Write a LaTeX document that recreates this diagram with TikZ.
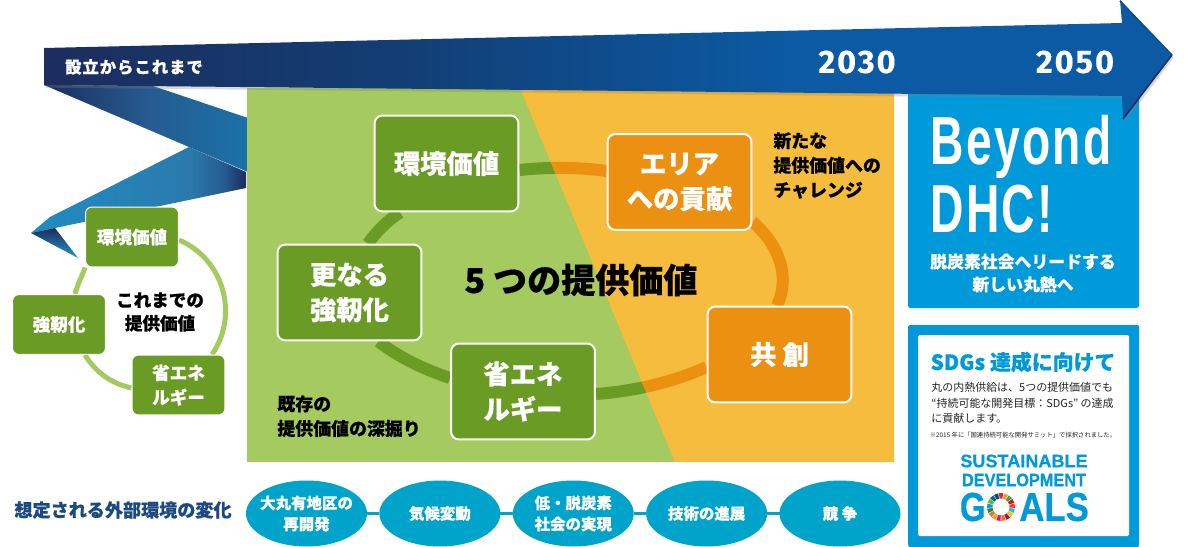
\documentclass[tikz,border=0pt]{standalone}
\usepackage{fontspec}
\usepackage{xcolor}
\usetikzlibrary{shapes.geometric, positioning, calc, backgrounds, shadows}
\newfontfamily\jp{Noto Sans CJK JP}[BoldFeatures={FakeBold=.5}]
\newfontfamily\numf{Fira Sans}[BoldFeatures={FakeBold=.4}]
\newfontfamily\dinf{Liberation Sans}[FakeStretch=0.68]
\newfontfamily\sdgf{Liberation Sans}[BoldFeatures={FakeBold=.5}]
\newcommand{\fs}[2]{\fontsize{#1}{#2}\selectfont}

\definecolor{leaf}{HTML}{6A9C25}
\definecolor{leaflt}{HTML}{A5CA60}
\definecolor{amber}{HTML}{F5BC3E}
\definecolor{ochre}{HTML}{EB9010}
\definecolor{navyd}{HTML}{1C2D5E}
\definecolor{navym}{HTML}{123E74}
\definecolor{royal}{HTML}{0B5AA3}
\definecolor{sky}{HTML}{0099D9}
\definecolor{teal}{HTML}{00A3C9}
\definecolor{rib}{HTML}{1A72A8}
\definecolor{ribl}{HTML}{1F8CC4}
\definecolor{ribm}{HTML}{2B7AAC}
\definecolor{ribd}{HTML}{265A8F}
\definecolor{ribb}{HTML}{2497C8}
\definecolor{extx}{HTML}{1B4A82}

\pgfdeclarehorizontalshading{arrowshade}{100bp}{color(0bp)=(navyd); color(25bp)=(navyd);
  color(41bp)=(navym); color(58bp)=(royal); color(100bp)=(royal)}
\pgfdeclarehorizontalshading{ribshade}{100bp}{color(0bp)=(ribl); color(25bp)=(ribl);
  color(62bp)=(ribm); color(70bp)=(ribd); color(75bp)=(navyd); color(100bp)=(navyd)}

\tikzstyle{block}  = [rectangle, rounded corners=.16cm, minimum width=2.88cm,
                      minimum height=1.92cm, inner sep=0pt, text centered, draw=white,
                      line width=.04cm, text=white, align=center,
                      font=\jp\bfseries\fs{15}{20}]
\tikzstyle{gblock} = [block, fill=leaf]
\tikzstyle{oblock} = [block, fill=ochre]
\tikzstyle{sblock} = [gblock, rounded corners=.13cm, minimum width=1.86cm, minimum height=1.2cm,
                      line width=.02cm, font=\jp\bfseries\fs{10}{14}]
\tikzstyle{oval}   = [ellipse, fill=teal, minimum width=2.42cm, minimum height=1.32cm,
                      inner sep=-.2cm, outer sep=0pt, text=white, align=center, font=\jp\bfseries\fs{8.8}{12}]
\tikzstyle{link}   = [teal, line width=.07cm]
\tikzstyle{gring}  = [leaf, line width=.24cm]
\tikzstyle{oring}  = [ochre, line width=.24cm]
\tikzstyle{sring}  = [leaflt, line width=.1cm]
\tikzstyle{note}   = [align=left, inner sep=0pt, font=\jp\bfseries\fs{10.2}{14}]
\tikzstyle{ribbon} = [draw=none]

\newcommand{\ringsegs}[1]{%
  \draw[#1] ($(env.east)+(0,6.5)$) .. controls (548,167) and (578,167) .. ($(area.west)+(0,-11)$);
  \draw[#1] ($(area.east)+(0,39.5)$) .. controls (781,247) and (790,278) .. ($(kyoso.north)+(-2.5,0)$);
  \draw[#1] ($(kyoso.west)+(0,12.5)$) .. controls (676,381) and (637,391) .. ($(energy.east)+(0,2.5)$);
  \draw[#1] ($(energy.west)+(0,-13.5)$) .. controls (421,368.5) and (396.5,355.5) .. ($(kyojin.south)+(29,0)$);
  \draw[#1] ($(kyojin.north)+(18.5,0)$) .. controls (376,232) and (388,220) .. ($(env.south)+(-46.5,0)$);}

\begin{document}
\begin{tikzpicture}[x=.02cm, y=-.02cm, node distance=.248cm]
  \useasboundingbox (0,0) rectangle (1200,547);

  % Five values
  \node[gblock] (env)    at (446.5,163.5) {環境価値};
  \node[oblock] (area)   at (679.5,182)   {エリア\\への貢献};
  \node[oblock] (kyoso)  at (779.5,354.5) {共 創};
  \node[gblock] (energy) at (523,391.5)   {省エネ\\ルギー};
  \node[gblock] (kyojin) at (349.5,292.5) {更なる\\強靭化};

  \node[font=\jp\bfseries\fs{19.4}{22}] (five) at (581,280) {5 つの提供価値};
  \node[note, anchor=north west] (newv) at (773,132) {新たな\\提供価値への\\チャレンジ};
  \node[note, anchor=north west] (oldv) at (277,395) {既存の\\提供価値の深掘り};

  % Values so far
  \node[sblock] (senv) at (132,237)   {環境価値};
  \node[sblock] (sstr) at (59,324.5)  {強靭化};
  \node[sblock] (sene) at (178.5,385) {省エネ\\ルギー};
  \node[note, align=center, font=\jp\bfseries\fs{10}{13.2}] (sofar) at (160,312) {これまでの\\提供価値};

  % Outer changes
  \node[font=\jp\bfseries\fs{10.3}{14}, text=extx] (extl) at (123,510) {想定される外部環境の変化};
  \node[oval] (ov1) at (306.5,513.5) {大丸有地区の\\再開発};
  \node[oval, right=of ov1] (ov2) {気候変動};
  \node[oval, right=of ov2] (ov3) {低・脱炭素\\社会の実現};
  \node[oval, right=of ov3] (ov4) {技術の進展};
  \node[oval, right=of ov4] (ov5) {競 争};
  \draw[link] (ov1) -- (ov2);
  \draw[link] (ov2) -- (ov3);
  \draw[link] (ov3) -- (ov4);
  \draw[link] (ov4) -- (ov5);

  \begin{scope}[on background layer]
    % Ribbons
    \shade[ribbon, shading=ribshade] (189,147) -- (246,172) -- (246,188) -- (55,228) -- (31,233) -- (50,217) -- cycle;
    \shade[ribbon, top color=navyd, bottom color=ribb] (31,233) -- (55,228) -- (78,258) -- cycle;
    \shade[ribbon, left color=navyd, right color=rib, middle color=ribd] (44,85) -- (153,86) -- (248,118) -- (248,172) -- (189,147) -- cycle;

    % Panels
    \fill[leaflt] (247,88) rectangle (894,462);
    \fill[amber] (520,88) -- (894,88) -- (894,462) -- (675,462) -- cycle;
    \begin{scope}
      \clip (247,88) -- (520,88) -- (675,462) -- (247,462) -- cycle;
      \ringsegs{gring}
    \end{scope}
    \begin{scope}
      \clip (520,88) -- (894,88) -- (894,462) -- (675,462) -- cycle;
      \ringsegs{oring}
    \end{scope}

    \draw[sring] ($(senv.east)+(0,3)$) .. controls (223.6,259) and (239.4,314.4) .. ($(sene.north)+(33.5,0)$);
    \draw[sring] ($(sene.west)+(0,3)$) .. controls (111.5,383.7) and (96,372.5) .. ($(sstr.south)+(26,0)$);
    \draw[sring] ($(sstr.north)+(16,0)$) .. controls (78,283) and (83,274) .. (senv.south west);

    \fill[sky, rounded corners=.05cm] (908,90) rectangle (1139,308);
    \fill[sky, rounded corners=.03cm] (908,325) rectangle (1139,547);
    \fill[white, rounded corners=.03cm] (918,335) rectangle (1129,536);
  \end{scope}

  % Time arrow
  \shade[shading=arrowshade, drop shadow={shadow xshift=1pt, shadow yshift=-1.5pt, opacity=.3}]
    (44,48) -- (1122,23) -- (1120,0) -- (1172,55) -- (1123,120) -- (1122,96) -- (44,85) -- cycle;
  \coordinate (tip) at (1172,55);
  \draw[navyd, line width=.03cm] (1123,119) -- (tip);
  \draw[royal!70!navyd, line width=.03cm] (1120,1) -- (tip);
  \node[text=white, font=\jp\bfseries\fs{9.3}{12}\addfontfeature{LetterSpace=6}] (since) at (134,67) {設立からこれまで};
  \node[text=white, font=\numf\bfseries\fs{18.5}{20}\addfontfeature{LetterSpace=6}] (y30) at (857,62) {2030};
  \node[text=white, font=\numf\bfseries\fs{18.5}{20}\addfontfeature{LetterSpace=6}] (y50) at (1075,62) {2050};

  % Beyond
  \node[text=white, anchor=north west, align=left, inner sep=0pt, font=\dinf\bfseries\fs{38.7}{38.6}\addfontfeature{LetterSpace=3.5}]
    (beyond) at (930,115) {Beyond\\DHC!};
  \node[text=white, align=center, font=\jp\bfseries\fs{9.6}{13}] (lead) at (1023,273) {脱炭素社会へリードする\\新しい丸熱へ};

  % SDGs
  \node[text=sky, font=\jp\bfseries\fs{11.9}{14}] (sdgt) at (1023,362) {SDGs 達成に向けて};
  \node[anchor=north west, align=left, inner sep=0pt, text=black!85, font=\jp\fs{6.25}{8.8}] (sdgb) at (931,382)
    {丸の内熱供給は、5つの提供価値でも\\“持続可能な開発目標：SDGs” の達成\\に貢献します。};
  \node[text=black!85, font=\jp\fs{3.6}{4}] (sdgn) at (1023,435) {※2015 年に「国連持続可能な開発サミット」で採択されました。};
  \node[text=sky, font=\sdgf\bfseries\fs{10.3}{12}] (sus) at (1024,461) {SUSTAINABLE};
  \node[text=sky, font=\sdgf\bfseries\fs{10.3}{12}\addfontfeature{FakeStretch=.9}] (dev) at (1024,480) {DEVELOPMENT};
  \node[text=sky, anchor=east, inner sep=0pt, font=\sdgf\bfseries\fs{23}{26}\addfontfeature{FakeStretch=.82}] (gg) at (986,507) {G};
  \node[text=sky, anchor=west, inner sep=0pt, font=\sdgf\bfseries\fs{23}{26}\addfontfeature{FakeStretch=.86}] (als) at (1019,507) {ALS};
  \coordinate (wheel) at (1001,507);
  \foreach \col [count=\i] in {E5243B,DDA63A,4C9F38,C5192D,FF3A21,26BDE2,FCC30B,A21942,FD6925,DD1367,FD9D24,BF8B2E,3F7E44,0A97D9,56C02B,00689D,19486A}{
    \definecolor{wedge}{HTML}{\col}
    \fill[wedge] ($(wheel)+({-90+(\i-1)*360/17-9}:14 and 14)$) -- ($(wheel)+({-90+(\i-1)*360/17+9}:14 and 14)$)
       -- ($(wheel)+({-90+(\i-1)*360/17+9}:8.5 and 8.5)$) -- ($(wheel)+({-90+(\i-1)*360/17-9}:8.5 and 8.5)$) -- cycle;
  }
\end{tikzpicture}
\end{document}
